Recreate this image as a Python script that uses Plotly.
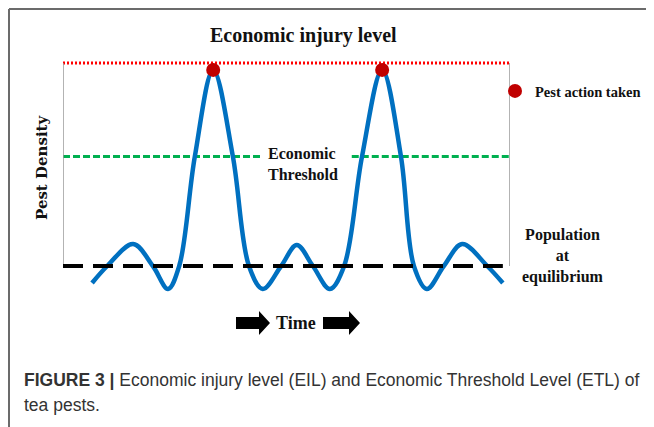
import plotly.graph_objects as go

# page body has an 8px margin: the figure is placed at (8, 8) in the window
OFF = 8
W, H = 654 - OFF, 427 - OFF

# ---- data (time in arbitrary units 0-100, pest density in arbitrary units) ----
TIME = [6.5, 9.9, 15.7, 20.1, 23.5, 26.0, 29.5, 33.6, 38.0, 41.6, 44.7, 48.8,
        52.3, 55.9, 59.7, 62.9, 66.9, 71.4, 75.6, 78.5, 81.4, 85.2, 89.3, 94.9, 98.4]
DENSITY = [-0.84, 0.0, 1.08, 0.0, -1.13, 0.0, 5.4, 9.66, 5.4, 0.0, -1.13, 0.0,
           1.03, 0.0, -1.13, 0.0, 5.4, 9.66, 5.4, 0.0, -1.13, 0.0, 1.08, 0.0, -0.84]
ACTION_TIME = [33.6, 71.4]
ACTION_DENSITY = [9.66, 9.66]

EIL = 10.0          # economic injury level
ET = 5.4            # economic threshold
EQ = 0.0            # population at equilibrium
T_START, T_END = 0.0, 100.0
ET_GAP = (44.3, 64.6)  # gap in the threshold line where its label sits

TITLE = "Economic injury level"
ET_LABEL = "Economic<br>Threshold"
EQ_LABEL = "Population<br>at<br>equilibrium"
Y_LABEL = "Pest Density"
X_LABEL = "Time"
LEGEND_LABEL = "Pest action taken"
CAPTION_1 = "<b>FIGURE 3 |</b> Economic injury level (EIL) and Economic Threshold Level (ETL) of"
CAPTION_2 = "tea pests."

# ---- helpers: window pixel -> paper fraction ----
def px(x):
    return (x - OFF) / W

def py(y):
    return 1 - (y - OFF) / H

SERIF = "Liberation Serif"
SANS = "Liberation Sans"
BLUE = "#0070C0"
DARKRED = "#C00000"

fig = go.Figure()

# reference lines
fig.add_trace(go.Scatter(x=[T_START, T_END], y=[EIL, EIL], mode="lines",
                         line=dict(color="#FF0000", width=3, dash="2px,2px"),
                         showlegend=False, hoverinfo="skip"))
fig.add_trace(go.Scatter(x=[T_START, ET_GAP[0], None, ET_GAP[1], T_END],
                         y=[ET, ET, None, ET, ET], mode="lines",
                         line=dict(color="#00B050", width=3, dash="7px,3px"),
                         showlegend=False, hoverinfo="skip"))
# frame (axis lines) from equilibrium up to EIL
fig.add_trace(go.Scatter(x=[T_START, T_START, None, T_END, T_END],
                         y=[EQ, EIL, None, EQ, EIL], mode="lines",
                         line=dict(color="#9a9a9a", width=1.5),
                         showlegend=False, hoverinfo="skip"))
# population curve
fig.add_trace(go.Scatter(x=TIME, y=DENSITY, mode="lines",
                         line=dict(color=BLUE, width=4.5, shape="spline", smoothing=1.0),
                         showlegend=False, hoverinfo="skip"))
# equilibrium line (drawn on top of curve)
fig.add_trace(go.Scatter(x=[T_START, TIME[-1]], y=[EQ, EQ], mode="lines",
                         line=dict(color="black", width=4, dash="20px,10px"),
                         showlegend=False, hoverinfo="skip"))
# pest action markers
fig.add_trace(go.Scatter(x=ACTION_TIME, y=ACTION_DENSITY, mode="markers",
                         marker=dict(color=DARKRED, size=14),
                         name=LEGEND_LABEL, showlegend=True, cliponaxis=False))

# axes: frame spans px 63..510 horizontally, EQ at y=266, EIL at y=63
x0_px, x1_px = 63, 510
yb_px, yt_px = 300, 55
scale = (266 - 63) / (EIL - EQ)
y_lo = EQ - (yb_px - 266) / scale
y_hi = EQ + (266 - yt_px) / scale

fig.update_xaxes(domain=[px(x0_px), px(x1_px)], range=[T_START, T_END],
                 visible=False, fixedrange=True)
fig.update_yaxes(domain=[py(yb_px), py(yt_px)], range=[y_lo, y_hi],
                 visible=False, fixedrange=True)

# arrows as path shapes
def arrow_path(xa, xb, yc, body=12, head=24, head_len=11):
    xh = xb - head_len
    pts = [(xa, yc - body / 2), (xh, yc - body / 2), (xh, yc - head / 2), (xb, yc),
           (xh, yc + head / 2), (xh, yc + body / 2), (xa, yc + body / 2)]
    return "M " + " L ".join(f"{px(a):.5f},{py(b):.5f}" for a, b in pts) + " Z"

shapes = [
    dict(type="path", xref="paper", yref="paper", path=arrow_path(236, 270, 323),
         fillcolor="black", line=dict(width=0)),
    dict(type="path", xref="paper", yref="paper", path=arrow_path(323, 360, 323),
         fillcolor="black", line=dict(width=0)),
    # outer figure border (top and left)
    dict(type="line", xref="paper", yref="paper", x0=px(9), x1=1, y0=py(9), y1=py(9),
         line=dict(color="#6b6b6b", width=2)),
    dict(type="line", xref="paper", yref="paper", x0=px(9), x1=px(9), y0=py(9), y1=0,
         line=dict(color="#6b6b6b", width=2)),
]

ann = [
    dict(text=f"<b>{TITLE}</b>", x=px(303), y=py(35), font=dict(family=SERIF, size=20, color="#111")),
    dict(text=f"<b>{ET_LABEL}</b>", x=px(266), y=py(164), xanchor="left", align="left",
         font=dict(family=SERIF, size=16, color="#111")),
    dict(text=f"<b>{EQ_LABEL}</b>", x=px(563), y=py(256), align="center",
         font=dict(family=SERIF, size=16, color="#111")),
    dict(text=f"<b>{Y_LABEL}</b>", x=px(42), y=py(167), textangle=-90,
         font=dict(family="DejaVu Serif", size=15, color="#111")),
    dict(text=f"<b>{X_LABEL}</b>", x=px(296), y=py(323), font=dict(family=SERIF, size=18, color="#111")),
    dict(text=CAPTION_1, x=px(22), y=py(380), xanchor="left",
         font=dict(family=SANS, size=17.5, color="#333")),
    dict(text=CAPTION_2, x=px(22), y=py(405), xanchor="left",
         font=dict(family=SANS, size=17.5, color="#333")),
]
for a in ann:
    a.setdefault("xanchor", "center")
    a.update(xref="paper", yref="paper", showarrow=False, yanchor="middle")

fig.update_layout(
    width=W, height=H, autosize=False,
    margin=dict(l=0, r=0, t=0, b=0),
    paper_bgcolor="white", plot_bgcolor="rgba(0,0,0,0)",
    shapes=shapes, annotations=ann,
    showlegend=True,
    legend=dict(x=px(495), y=py(91), xanchor="left", yanchor="middle",
                bgcolor="rgba(0,0,0,0)", borderwidth=0,
                font=dict(family=SERIF, size=14.5, color="#111", weight="bold")),
)

fig.write_html("out.html")
